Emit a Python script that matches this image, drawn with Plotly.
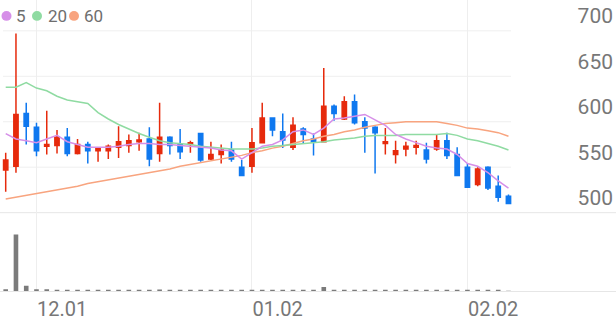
import plotly.graph_objects as go

dates = ["2022-11-28","2022-11-29","2022-11-30","2022-12-01","2022-12-02","2022-12-05","2022-12-06","2022-12-07",
         "2022-12-08","2022-12-09","2022-12-12","2022-12-13","2022-12-14","2022-12-15","2022-12-16","2022-12-19",
         "2022-12-20","2022-12-21","2022-12-22","2022-12-23","2022-12-26","2022-12-27","2022-12-28","2022-12-29",
         "2023-01-02","2023-01-03","2023-01-04","2023-01-05","2023-01-06","2023-01-09","2023-01-10","2023-01-11",
         "2023-01-12","2023-01-13","2023-01-16","2023-01-17","2023-01-18","2023-01-19","2023-01-20","2023-01-25",
         "2023-01-26","2023-01-27","2023-01-30","2023-01-31","2023-02-01","2023-02-02","2023-02-03","2023-02-06",
         "2023-02-07","2023-02-08"]

open_ = [547,551,609,594,573,574,583,565,575,568,568,572,574,578,581,565,583,575,575,587,559,564,569,550,
         551,577,604,589,572,592,581,578,617,603,622,600,594,576,564,570,572,569,570,579,564,550,531,550,529,518]
high  = [566,697,621,599,612,591,593,581,578,572,575,595,586,588,594,621,584,592,579,588,578,575,578,558,
         593,621,605,609,605,594,587,659,619,628,630,605,595,593,579,578,579,577,586,588,572,554,550,551,541,520]
low   = [523,544,575,562,564,565,562,564,554,556,559,560,566,568,551,556,564,559,566,556,558,554,556,540,
         544,576,584,571,569,576,563,578,601,602,597,566,543,564,554,562,564,554,568,559,541,528,529,525,512,510]
close = [558,608,595,568,575,583,565,575,568,571,573,578,579,580,559,583,574,567,577,558,564,569,559,541,
         577,604,591,580,596,586,578,617,609,622,599,593,588,578,568,573,574,559,579,563,541,528,548,527,517,510]

volume = [3.5,100,9.5,3.5,3.5,1.5,1.5,1.5,1.5,1.5,1.5,2.5,1.5,1.5,1.5,3,1.5,1.5,1.5,1.5,1.5,1.5,1.5,1.5,
          2,2.5,1.5,1.5,1.5,1.5,1.5,7.5,1.5,1.5,1.5,2,1.5,1.5,1.5,1.5,1.5,1.5,1.5,1.5,1.5,1.5,1.5,1.5,1.5,0.8]

ma5 = [587,581,579,577,581,585,578,575,572,572,572,573,575,576,576,575,575,574,573,572,571,569,568,559,
       566,573,575,580,589,591,586,593,603,604,606,608,602,596,586,581,577,573,571,570,564,554,551,544,535,527]
ma20 = [638,638,643,637,634,628,624,622,620,610,603,597,592,587,583,579,577,576,575,573,572,571,570,570,
        570,571,573,574,575,576,577,578,580,581,582,584,585,585,585,586,586,586,586,587,585,581,579,576,573,569]
ma60 = [515,517,519,521,523,525,527,529,532,534,536,538,540,542,544,546,548,551,553,555,557,559,561,563,
        566,568,571,573,576,579,581,584,586,589,591,594,596,598,599,600,600,600,600,598,596,593,592,590,588,584]

price_ticks = [500, 550, 600, 650, 700]
x_tickvals = ["2022-12-01", "2023-01-02", "2023-02-02"]
x_ticktext = ["12.01", "01.02", "02.02"]
legend_labels = ["5", "20", "60"]

RED = "#e62a0c"
BLUE = "#0f78ef"
C5, C20, C60 = "#d68fe8", "#8fdba2", "#f8a47f"
W, H = 616, 321

fig = go.Figure()
fig.add_trace(go.Candlestick(
    x=dates, open=open_, high=high, low=low, close=close,
    increasing=dict(line=dict(color=RED, width=1.5), fillcolor=RED),
    decreasing=dict(line=dict(color=BLUE, width=1.5), fillcolor=BLUE),
    whiskerwidth=0, xaxis="x", yaxis="y", showlegend=False, hoverinfo="skip"))
for vals, col in [(ma60, C60), (ma20, C20), (ma5, C5)]:
    fig.add_trace(go.Scatter(x=dates, y=vals, mode="lines", line=dict(color=col, width=1.5),
                             xaxis="x", yaxis="y", showlegend=False, hoverinfo="skip"))
fig.add_trace(go.Bar(x=dates, y=volume, marker=dict(color="#7b7b7b", line=dict(width=0)),
                     width=0.45, xaxis="x", yaxis="y2", showlegend=False, hoverinfo="skip"))

y_price_bot = (H - 214) / H
y_vol_bot = (H - 293) / H
px_per_unit = 0.915
price_top = 500 + 214 / px_per_unit

shapes = []
for t in price_ticks[1:]:
    shapes.append(dict(type="line", xref="paper", yref="y", x0=3 / W, x1=511 / W, y0=t, y1=t,
                       line=dict(color="#efefef", width=1), layer="below"))
shapes.append(dict(type="line", xref="paper", yref="paper", x0=0, x1=1, y0=y_price_bot, y1=y_price_bot,
                   line=dict(color="#e6e6e6", width=1), layer="below"))

annotations = []
legend_y = 16
for lab, col, dot_x, txt_x in zip(legend_labels, [C5, C20, C60], [6.5, 37, 74], [14, 46, 82]):
    shapes.append(dict(type="circle", xref="paper", yref="paper",
                       x0=(dot_x - 5) / W, x1=(dot_x + 5) / W,
                       y0=1 - (legend_y + 5) / H, y1=1 - (legend_y - 5) / H,
                       fillcolor=col, line=dict(width=0)))
    annotations.append(dict(xref="paper", yref="paper", x=txt_x / W, y=1 - legend_y / H,
                            xanchor="left", yanchor="middle", showarrow=False, text=lab,
                            font=dict(family="Roboto", size=17, color="#6e6e6e")))

fig.update_layout(
    width=W, height=H, margin=dict(l=0, r=0, t=0, b=0),
    paper_bgcolor="white", plot_bgcolor="white",
    boxgap=0.4, bargap=0.5,
    shapes=shapes, annotations=annotations,
    xaxis=dict(type="category", range=[-0.556, 59.48], anchor="y2", domain=[0, 1],
               rangeslider=dict(visible=False),
               showgrid=True, gridcolor="#eeeeee", gridwidth=1,
               tickvals=x_tickvals, ticktext=x_ticktext, ticks="",
               ticklabelposition="outside right",
               tickfont=dict(family="Roboto", size=20, color="#777777"),
               showline=True, linecolor="#e6e6e6", linewidth=1, zeroline=False),
    yaxis=dict(domain=[y_price_bot, 1], range=[500, price_top], side="right", anchor="x",
               showgrid=False, zeroline=False, showline=False, ticks="",
               tickvals=price_ticks, ticklabelposition="inside top",
               tickfont=dict(family="Roboto", size=21, color="#777777")),
    yaxis2=dict(domain=[y_vol_bot, y_price_bot], range=[0, 100 * 79 / 57], visible=False, anchor="x"),
)

fig.write_html("out.html")
